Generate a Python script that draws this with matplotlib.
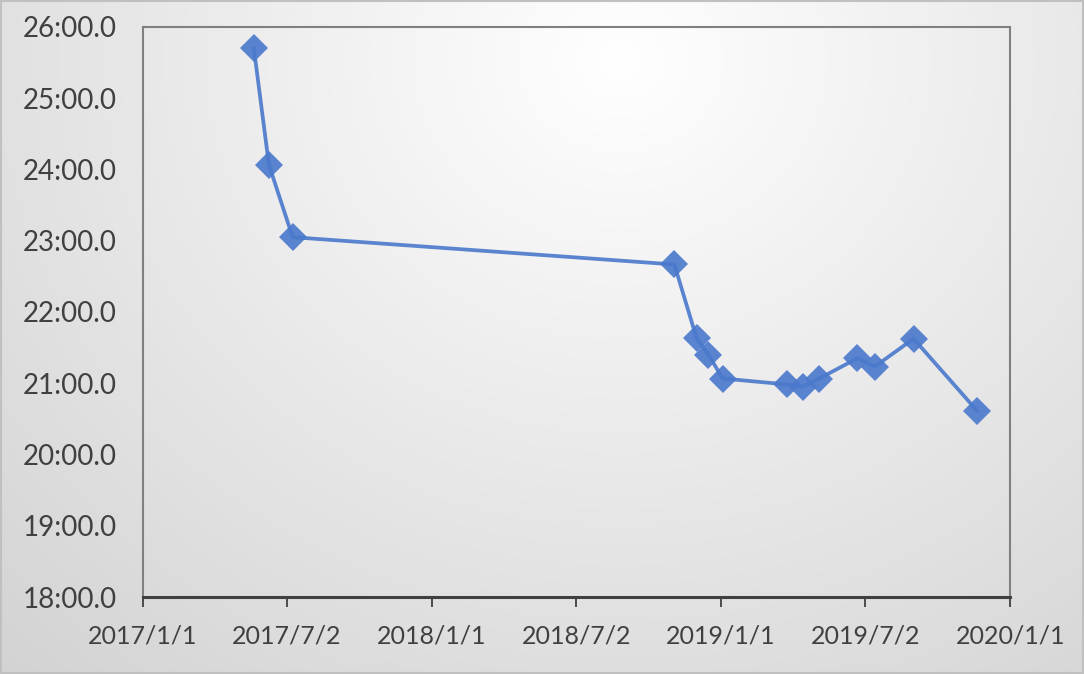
import numpy as np
import pandas as pd
import matplotlib
matplotlib.use("Agg")
import matplotlib.pyplot as plt
from matplotlib.ticker import FuncFormatter, MultipleLocator

plt.rcParams['font.family'] = ['Lato', 'DejaVu Sans']

# race dates and finish times (seconds)
dates = ['2017-05-21', '2017-06-09', '2017-07-09', '2018-11-03', '2018-12-01',
         '2018-12-16', '2019-01-03', '2019-03-25', '2019-04-14', '2019-05-05',
         '2019-06-22', '2019-07-14', '2019-09-01', '2019-11-20']
times = [25*60+42, 24*60+4, 23*60+3, 22*60+40, 21*60+38,
         21*60+24, 21*60+4, 20*60+59, 20*60+57, 21*60+4,
         21*60+21, 21*60+14, 21*60+37.5, 20*60+37]
tick_dates = ['2017-01-01', '2017-07-02', '2018-01-01', '2018-07-02',
              '2019-01-01', '2019-07-02', '2020-01-01']
tick_labels = ['2017/1/1', '2017/7/2', '2018/1/1', '2018/7/2',
               '2019/1/1', '2019/7/2', '2020/1/1']

x = pd.to_datetime(dates)
y = np.array(times)
xt = pd.to_datetime(tick_dates)

fig = plt.figure(figsize=(10.84, 6.74), dpi=100)

# background gradient
bg = fig.add_axes([0, 0, 1, 1])
h, w = 674, 1084
yy, xx = np.mgrid[0:h, 0:w]
d = np.sqrt((xx - 620) ** 2 + ((yy - 60) / 0.9) ** 2)
d = np.clip(d / 900, 0, 1)
g = 1.0 - 0.17 * d
bg.imshow(np.dstack([g, g, g]), extent=[0, 1, 0, 1], aspect='auto')
bg.set_axis_off()
fig.add_artist(plt.Rectangle((0.001, 0.002), 0.998, 0.996, transform=fig.transFigure,
                             fill=False, edgecolor='#c0c0c0', linewidth=1.5))

ax = fig.add_axes([0.1319, 0.1142, 0.80, 0.8458])
ax.patch.set_alpha(0)
ax.plot(x, y, color='#4a78cc', linewidth=2.7, marker='D', markersize=14.5,
        markeredgewidth=0, alpha=0.9, solid_joinstyle='round')

ax.set_xlim(pd.Timestamp('2017-01-01'), pd.Timestamp('2020-01-01'))
ax.set_ylim(18*60, 26*60)
ax.set_xticks(xt)
ax.set_xticklabels(tick_labels)
ax.yaxis.set_major_locator(MultipleLocator(60))
ax.yaxis.set_major_formatter(FuncFormatter(lambda v, p: '%d:%04.1f' % (v // 60, v % 60)))

for s in ['left', 'top', 'right']:
    ax.spines[s].set_color('#808080')
    ax.spines[s].set_linewidth(1.5)
ax.spines['bottom'].set_color('#404040')
ax.spines['bottom'].set_linewidth(2.2)
ax.tick_params(axis='x', direction='out', length=7, width=1.3, color='#404040',
               labelsize=18, labelcolor='#404040', pad=13)
ax.tick_params(axis='y', length=0, labelsize=20, labelcolor='#404040', pad=19)

fig.savefig('out.png', dpi=100)
